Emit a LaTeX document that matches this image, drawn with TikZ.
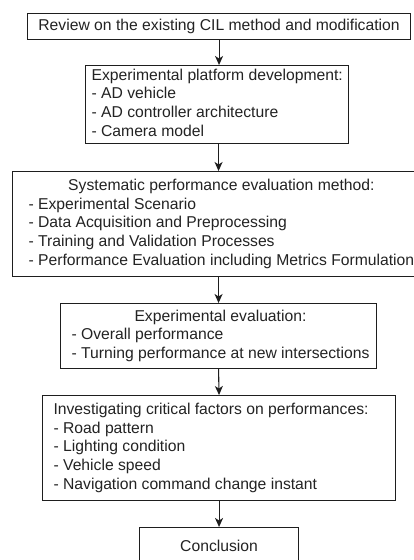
\documentclass[tikz,border=0pt]{standalone}
\usepackage{fontspec}
\setmainfont{Liberation Sans}
\usetikzlibrary{arrows.meta}
\definecolor{ln}{RGB}{30,30,30}
\definecolor{tx}{RGB}{35,35,35}
\newcommand\boxcontent[3]{\makebox[#1pt][l]{\hspace*{#2pt}\begin{tabular}{@{}l@{}}#3\end{tabular}}}
\newcommand\ctitle[1]{\multicolumn{1}{@{}c@{}}{#1}}
\begin{document}
\begin{tikzpicture}[x=1pt, y=-1pt,
  font=\fontsize{15.7}{18.8}\selectfont, text=tx,
  box/.style={draw=ln, line width=1.1pt, inner xsep=0pt, inner ysep=0pt, anchor=north west, fill=white},
  arr/.style={draw=ln, line width=1.1pt, -{Stealth[length=9pt,width=8pt,inset=2.5pt]}}]
\useasboundingbox (0,0) rectangle (414,560);
\clip (0,0) rectangle (414,560);
\node[box, minimum width=383pt, minimum height=26pt] (b1) at (27,13) {Review on the existing CIL method and modification};
\node[box, minimum width=263pt, minimum height=78pt] (b2) at (85,65)
  {\boxcontent{263}{6}{Experimental platform development:\\- AD vehicle\\- AD controller architecture\\- Camera model}};
\node[box, minimum width=412pt, minimum height=105pt] (b3) at (12,171)
  {\boxcontent{412}{16}{\ctitle{Systematic performance evaluation method:}\\- Experimental Scenario\\- Data Acquisition and Preprocessing\\- Training and Validation Processes\\- Performance Evaluation including Metrics Formulation}};
\node[box, minimum width=316pt, minimum height=65pt] (b4) at (60,303)
  {\boxcontent{316}{11}{\ctitle{Experimental evaluation:}\\- Overall performance\\- Turning performance at new intersections}};
\node[box, minimum width=353pt, minimum height=105pt] (b5) at (42,395)
  {\boxcontent{353}{11}{Investigating critical factors on performances:\\- Road pattern\\- Lighting condition\\- Vehicle speed\\- Navigation command change instant}};
\node[box, minimum width=159pt, minimum height=36pt] (b6) at (139,527) {Conclusion};
\draw[arr] (b1.south) -- (b1.south |- b2.north);
\draw[arr] (b3.north |- b2.south) -- (b3.north);
\draw[arr] (b3.south) -- (b4.north);
\draw[arr] (b4.south) -- (b5.north);
\draw[arr] (b5.south) -- (b6.north);
\end{tikzpicture}
\end{document}
